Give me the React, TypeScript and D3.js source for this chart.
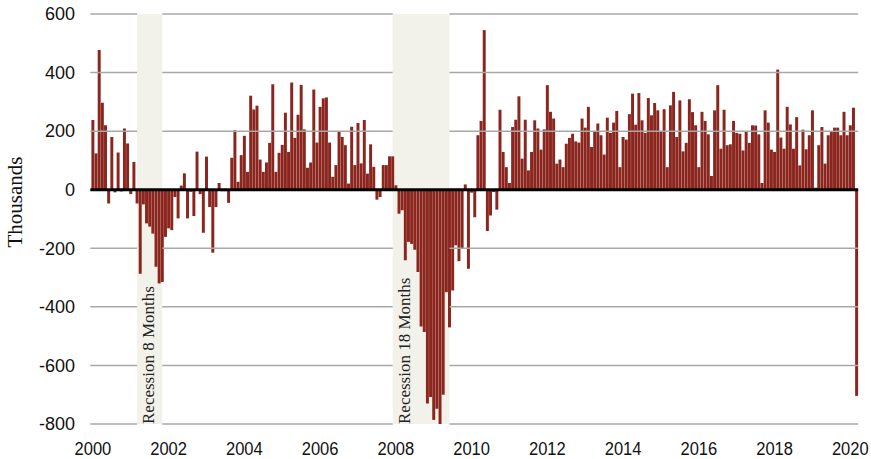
import React from 'react';
import * as d3 from 'd3';

// monthly change in nonfarm payrolls, thousands, Jan 2000 .. Mar 2020
const changes = [
  238, 124, 477, 297, 220, -47, 180, -9, 127, -6, 209, 158, // 2000
  -15, 95, -47, -287, -50, -115, -126, -150, -263, -320, -315, -161, // 2001
  -132, -138, -25, -98, 14, 56, -98, -7, -90, 130, -15, -147, // 2002
  113, -59, -215, -59, 23, -5, -5, -45, 109, 203, 27, 118, // 2003
  184, 61, 321, 274, 287, 103, 61, 93, 160, 360, 61, 126, // 2004
  153, 263, 129, 366, 177, 256, 358, 206, 75, 93, 342, 161, // 2005
  283, 312, 315, 161, 44, 84, 200, 180, 152, 21, 215, 84, // 2006
  228, 90, 238, 55, 155, 78, -34, -25, 84, 84, 114, 114, // 2007
  15, -82, -70, -241, -178, -185, -205, -281, -467, -486, -730, -708, // 2008
  -786, -748, -800, -700, -350, -470, -344, -190, -244, -202, 18, -270, // 2009
  -10, -94, 186, 235, 545, -141, -88, -8, -68, 273, 129, 77, // 2010
  23, 214, 239, 319, 106, 239, 66, 129, 237, 209, 137, 206, // 2011
  357, 266, 243, 89, 103, 77, 157, 177, 191, 165, 161, 243, // 2012
  212, 283, 146, 197, 226, 186, 120, 246, 194, 229, 269, 77, // 2013
  180, 171, 258, 328, 222, 330, 237, 194, 313, 254, 296, 271, // 2014
  197, 275, 77, 288, 334, 180, 305, 131, 160, 309, 265, 220, // 2015
  77, 266, 235, 189, 47, 271, 357, 140, 273, 152, 155, 235, // 2016
  194, 191, 134, 199, 160, 220, 219, 189, 23, 271, 229, 137, // 2017
  129, 410, 178, 140, 283, 223, 140, 248, 83, 205, 138, 186, // 2018
  271, 7, 152, 214, 89, 186, 197, 212, 212, 186, 266, 186, // 2019
  220, 280, -704 // 2020
];

const yTicks = [-800, -600, -400, -200, 0, 200, 400, 600];
const xTickYears = [2000, 2002, 2004, 2006, 2008, 2010, 2012, 2014, 2016, 2018, 2020];

const recessionStarts = ['2001-03', '2007-12'];
const recessionEnds = ['2001-11', '2009-06'];
const recessionLabels = ['Recession 8 Months', 'Recession 18 Months'];

const months = changes.map((_, i) => {
  const yr = 2000 + Math.floor(i / 12);
  const m = (i % 12) + 1;
  return `${yr}-${m < 10 ? '0' + m : m}`;
});

const width = 871;
const height = 459;
const left = 91.3;
const right = 858.2;
const top = 14;
const bottom = 424;

const barColor = '#8b261f';
const shadeColor = '#f3f2ea';
const gridColor = '#a8a8a8';

export default function App() {
  const x = d3.scaleBand<string>()
    .domain(months)
    .range([left, right])
    .paddingInner(0.06)
    .paddingOuter(0.03);
  const y = d3.scaleLinear().domain([-800, 600]).range([bottom, top]);
  const bw = x.bandwidth();
  const mid = (k: string) => (x(k) as number) + bw / 2;

  const shades = recessionStarts.map((s, i) => ({
    x0: mid(s),
    x1: mid(recessionEnds[i]),
    label: recessionLabels[i]
  }));

  // grid segments skip the shaded recession bands
  const gridSegs: [number, number][] = [];
  let cur = left - 1;
  shades.forEach(s => {
    gridSegs.push([cur, s.x0]);
    cur = s.x1;
  });
  gridSegs.push([cur, right]);

  return (
    <svg width={width} height={height} style={{ position: 'absolute', left: 0, top: 0, background: '#fff' }}>
      {shades.map((s, i) => (
        <rect key={'s' + i} x={s.x0} y={top} width={s.x1 - s.x0} height={bottom - top} fill={shadeColor} />
      ))}
      {months.map((m, i) => {
        const v = changes[i];
        return (
          <rect
            key={m}
            x={x(m)}
            width={bw}
            y={y(Math.max(0, v))}
            height={Math.abs(y(v) - y(0))}
            fill={barColor}
          />
        );
      })}
      {yTicks.filter(t => t !== 0).map(t => (
        <g key={'g' + t}>
          {gridSegs.map(([a, b], j) => (
            <line key={j} x1={a} x2={b} y1={y(t)} y2={y(t)} stroke={gridColor} strokeWidth={1.5} />
          ))}
        </g>
      ))}
      <line x1={left - 1} x2={right} y1={y(0)} y2={y(0)} stroke="#000" strokeWidth={3} />
      {shades.map((s, i) => (
        <text
          key={'l' + i}
          transform={`translate(${s.x0 + 17},${bottom}) rotate(-90)`}
          fontFamily="'Liberation Serif', serif"
          fontSize={17}
          fill="#222"
        >
          {s.label}
        </text>
      ))}
      {yTicks.map(t => (
        <text
          key={'t' + t}
          x={75}
          y={y(t)}
          dy="0.35em"
          textAnchor="end"
          fontFamily="'Liberation Sans', Arial, sans-serif"
          fontSize={18}
          fill="#111"
        >
          {t}
        </text>
      ))}
      {xTickYears.map(yr => (
        <text
          key={'x' + yr}
          transform={`translate(${mid(yr + '-01')},454.5) scale(0.87,1)`}
          textAnchor="middle"
          fontFamily="'Liberation Sans', Arial, sans-serif"
          fontSize={19}
          fill="#111"
        >
          {yr}
        </text>
      ))}
      <text
        transform="translate(22,202) rotate(-90)"
        textAnchor="middle"
        fontFamily="'Liberation Serif', serif"
        fontSize={21}
        fill="#111"
      >
        Thousands
      </text>
    </svg>
  );
}
